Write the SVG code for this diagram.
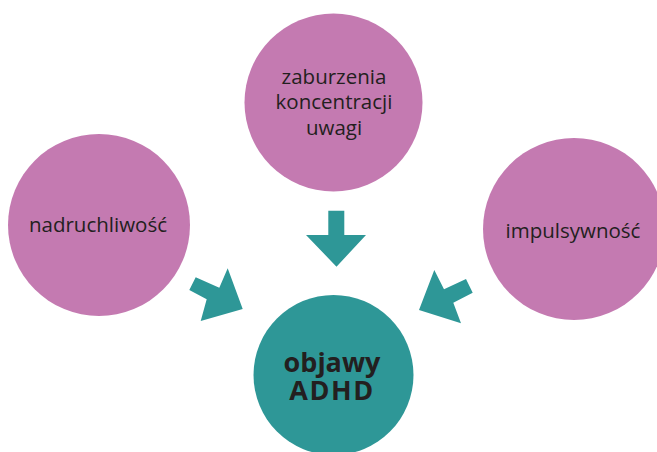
<svg xmlns="http://www.w3.org/2000/svg" width="657" height="452" viewBox="0 0 657 452">
  <style>
    .pink { fill: #C47AB1; }
    .teal { fill: #2E9797; }
    .lbl { font-family: "Open Sans", Lato, sans-serif; font-size: 20.5px; fill: #231F20; text-anchor: middle; }
    .main { font-family: "Open Sans", Lato, sans-serif; font-size: 27px; font-weight: bold; fill: #231F20; text-anchor: middle; }
  </style>
  <rect width="657" height="452" fill="#FFFFFF"/>

  <g id="node-nadruchliwosc">
    <circle class="pink" cx="99" cy="225" r="91"/>
    <text class="lbl" x="98" y="232">nadruchliwość</text>
  </g>

  <g id="node-zaburzenia">
    <circle class="pink" cx="333.5" cy="102.5" r="89"/>
    <text class="lbl" x="334" y="83.5">zaburzenia</text>
    <text class="lbl" x="334" y="109">koncentracji</text>
    <text class="lbl" x="334" y="134.5">uwagi</text>
  </g>

  <g id="node-impulsywnosc">
    <circle class="pink" cx="574" cy="229" r="91"/>
    <text class="lbl" x="573" y="238">impulsywność</text>
  </g>

  <g id="node-objawy">
    <circle class="teal" cx="333.5" cy="375" r="80"/>
    <text class="main" x="332" y="372">objawy</text>
    <text class="main" x="332" y="400" letter-spacing="1.5">ADHD</text>
  </g>

  <g id="connectors">
    <polygon class="teal" points="195.7,277.3 219.3,287.7 227.7,268.3 242.7,309 200.7,321 206.7,299.3 189.3,290"/>
    <polygon class="teal" points="328.3,210.7 344.3,210.7 344.3,235 366,235 336.5,266.7 306,235 328.3,235"/>
    <polygon class="teal" points="466,279 444,289.3 434.3,270 419,310 461,323.3 453.3,302.7 472.7,292.7"/>
  </g>
</svg>
